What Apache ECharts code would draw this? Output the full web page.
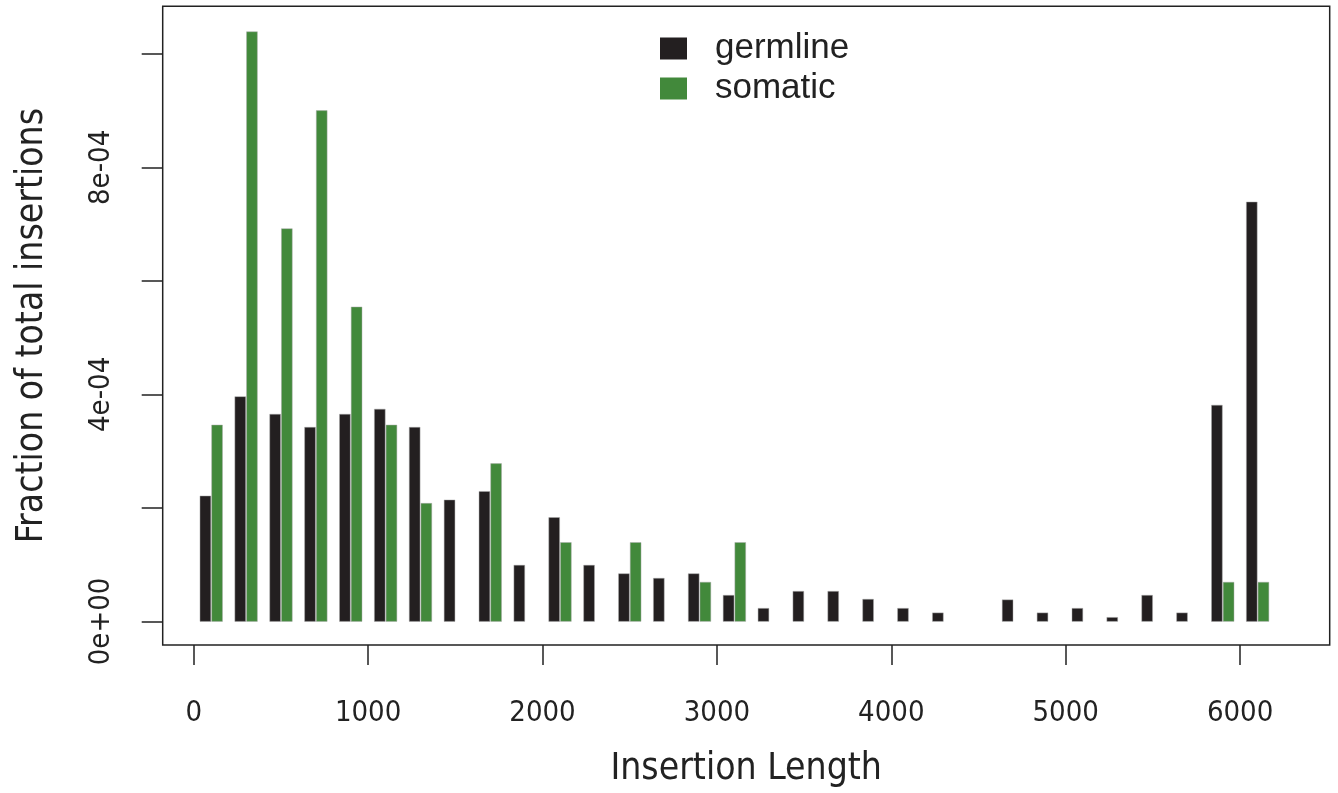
<!DOCTYPE html>
<html>
<head>
<meta charset="utf-8">
<script src="https://cdn.jsdelivr.net/npm/echarts@6/dist/echarts.min.js"></script>
<style>
html,body{margin:0;padding:0;background:#fff;}
#chart{width:1338px;height:793px;}
</style>
</head>
<body>
<div id="chart"></div>
<script>
// ---- data ----
var binStarts = [0,200,400,600,800,1000,1200,1400,1600,1800,2000,2200,2400,2600,2800,3000,3200,3400,3600,3800,4000,4200,4400,4600,4800,5000,5200,5400,5600,5800,6000];
var binWidth = 200;
// fraction of total insertions (x 1e-4)
var germline = [2.21,3.96,3.65,3.42,3.65,3.74,3.42,2.14,2.29,0.99,1.83,0.99,0.84,0.76,0.84,0.46,0.23,0.53,0.53,0.39,0.23,0.15,0,0.38,0.15,0.23,0.07,0.46,0.15,3.81,7.39];
var somatic  = [3.46,10.39,6.92,9.00,5.54,3.46,2.08,0,2.78,0,1.39,0,1.39,0,0.69,1.39,0,0,0,0,0,0,0,0,0,0,0,0,0,0.69,0.69];
var seriesNames = ['germline','somatic'];
var xTickValues = [0,1000,2000,3000,4000,5000,6000];
var yTickValues = [0,2e-4,4e-4,6e-4,8e-4,1e-3];
var yLabelValues = [0,4e-4,8e-4];
var yLabelTexts = ['0e+00','4e-04','8e-04'];
var xTitle = 'Insertion Length';
var yTitle = 'Fraction of total insertions';

var SCALE = 1e-4;
function toData(arr){
  var out = [];
  for (var i=0;i<arr.length;i++){ if (arr[i] > 0) out.push([binStarts[i], arr[i]*SCALE]); }
  return out;
}

var narrow = "'Liberation Sans Narrow','Arial Narrow','DejaVu Sans Condensed',sans-serif";
var colors = ['#231f20','#42893b'];
// bar placement within a bin (fractions of bin width) - styling only
var offsets = [[0.18,0.49],[0.515,0.825]];

function makeRender(k){
  return function(params, api){
    var x = api.value(0), v = api.value(1);
    var p0 = api.coord([x + offsets[k][0]*binWidth, 0]);
    var p1 = api.coord([x + offsets[k][1]*binWidth, v]);
    return {
      type:'rect',
      shape:{x:p0[0], y:p1[1], width:p1[0]-p0[0], height:p0[1]-p1[1]},
      style:{fill:colors[k], stroke:'rgba(170,170,170,0.8)', lineWidth:0.6}
    };
  };
}

var chart = echarts.init(document.getElementById('chart'), null, {renderer:'canvas'});
chart.setOption({
  backgroundColor:'#fff',
  animation:false,
  grid:{left:162.7, right:8.3, top:6.3, bottom:146, show:true, borderColor:'#222', borderWidth:1.5, backgroundColor:'transparent'},
  legend:{
    orient:'vertical', left:660, top:31, padding:0,
    itemWidth:27, itemHeight:22, itemGap:5,
    icon:'rect',
    data:seriesNames,
    textStyle:{fontFamily:"'Liberation Sans',Arial,sans-serif", fontSize:35, color:'#222', padding:[0,0,0,23]}
  },
  xAxis:{
    type:'value', min:-177.8, max:6513.8,
    axisLine:{show:false, onZero:false},
    splitLine:{show:false},
    axisTick:{show:true, inside:false, length:20, customValues:xTickValues, lineStyle:{color:'#222', width:1.5}},
    axisLabel:{show:true, customValues:xTickValues, margin:54, fontFamily:narrow, fontSize:29, color:'#222',
      formatter:function(v){ return String(v); }},
    name:xTitle, nameLocation:'middle', nameGap:106, nameMoveOverlap:false,
    nameTextStyle:{fontFamily:narrow, fontSize:37, color:'#222'}
  },
  yAxis:{
    type:'value', min:-0.416e-4, max:10.838e-4,
    axisLine:{show:false, onZero:false},
    splitLine:{show:false},
    axisTick:{show:true, inside:false, length:21, customValues:yTickValues, lineStyle:{color:'#222', width:1.5}},
    axisLabel:{show:true, customValues:yLabelValues, rotate:90, margin:47, fontFamily:narrow, fontSize:29, color:'#222',
      formatter:function(v){
        for (var i=0;i<yLabelValues.length;i++){ if (Math.abs(v-yLabelValues[i])<1e-9) return yLabelTexts[i]; }
        return '';
      }},
    name:yTitle, nameLocation:'middle', nameGap:112, nameRotate:90, nameMoveOverlap:false,
    nameTextStyle:{fontFamily:narrow, fontSize:37, color:'#222'}
  },
  series:[
    {name:seriesNames[0], type:'custom', renderItem:makeRender(0), itemStyle:{color:colors[0]}, encode:{x:0,y:1}, data:toData(germline)},
    {name:seriesNames[1], type:'custom', renderItem:makeRender(1), itemStyle:{color:colors[1]}, encode:{x:0,y:1}, data:toData(somatic)}
  ]
});
</script>
</body>
</html>
